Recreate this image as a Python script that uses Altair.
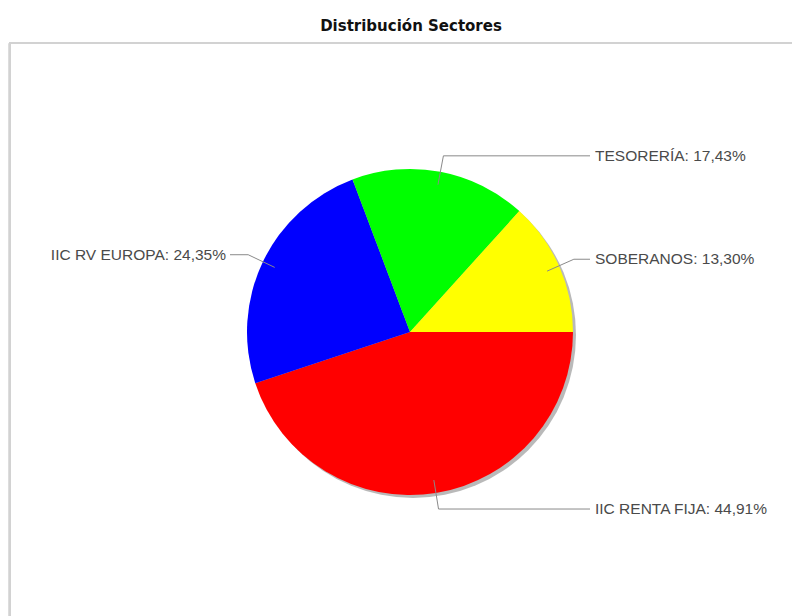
import math
import altair as alt
import pandas as pd

# ---- data ----
categories = ["IIC RENTA FIJA", "IIC RV EUROPA", "TESORERÍA", "SOBERANOS"]
values = [44.91, 24.35, 17.43, 13.30]
value_labels = ["44,91%", "24,35%", "17,43%", "13,30%"]
colors = ["#FF0000", "#0000FF", "#00FF00", "#FFFF00"]
TITLE = "Distribución Sectores"

# ---- layout ----
W, H = 784, 573
CX, CY, R = 402, 289, 163
START = math.pi / 2          # slices start at 3 o'clock
RIGHT_END, LEFT_END = 582, 222
FONT = "Liberation Sans"

pie_df = pd.DataFrame({"cat": categories, "val": values, "ord": list(range(len(categories)))})

total = sum(values)
cum = 0.0
line_rows, label_rows = [], []
for i, (c, v, lab) in enumerate(zip(categories, values, value_labels)):
    mid = START + 2 * math.pi * (cum + v / 2) / total
    cum += v
    s, co = math.sin(mid), math.cos(mid)
    x0, y0 = CX + 0.92 * R * s, CY - 0.92 * R * co
    x1, y1 = CX + 1.1 * R * s, CY - 1.1 * R * co
    side = "right" if s > 0 else "left"
    x2 = RIGHT_END if side == "right" else LEFT_END
    for k, (xx, yy) in enumerate([(x0, y0), (x1, y1), (x2, y1)]):
        line_rows.append({"cat": c, "seq": k, "x": xx, "y": yy})
    label_rows.append({"cat": c, "text": f"{c}: {lab}", "x": x2, "y": y1, "side": side})

lines_df = pd.DataFrame(line_rows)
labels_df = pd.DataFrame(label_rows)
one = pd.DataFrame({"a": [0]})

xs = alt.Scale(domain=[0, W], range=[0, W])
ys = alt.Scale(domain=[0, H], range=[0, H])

box = alt.Chart(one).mark_rect(fill="white", stroke="#d2d2d2", strokeWidth=2).encode(
    x=alt.value(2), x2=alt.value(787), y=alt.value(0), y2=alt.value(H + 30)
)

shadow = alt.Chart(one).mark_arc(
    color="#808080", opacity=0.55, outerRadius=R, theta=0, theta2=2 * math.pi
).encode(x=alt.value(CX + 3), y=alt.value(CY + 3))

pie = alt.Chart(pie_df).mark_arc(outerRadius=R).encode(
    theta=alt.Theta("val:Q", scale=alt.Scale(range=[START, START + 2 * math.pi])),
    order=alt.Order("ord:Q"),
    color=alt.Color("cat:N", scale=alt.Scale(domain=categories, range=colors), legend=None),
    x=alt.value(CX),
    y=alt.value(CY),
)

leaders = alt.Chart(lines_df).mark_line(color="#8a8a8a", strokeWidth=1).encode(
    x=alt.X("x:Q", scale=xs, axis=None),
    y=alt.Y("y:Q", scale=ys, axis=None),
    detail="cat:N",
    order="seq:Q",
)

lab_right = alt.Chart(labels_df).transform_filter(alt.datum.side == "right").mark_text(
    align="left", baseline="middle", dx=5, font=FONT, fontSize=15.5, color="#4a4a4a"
).encode(x=alt.X("x:Q", scale=xs, axis=None), y=alt.Y("y:Q", scale=ys, axis=None), text="text:N")

lab_left = alt.Chart(labels_df).transform_filter(alt.datum.side == "left").mark_text(
    align="right", baseline="middle", dx=-4, font=FONT, fontSize=15.5, color="#4a4a4a"
).encode(x=alt.X("x:Q", scale=xs, axis=None), y=alt.Y("y:Q", scale=ys, axis=None), text="text:N")

chart = alt.layer(box, shadow, pie, leaders, lab_right, lab_left).properties(
    width=W,
    height=H,
    autosize=alt.AutoSizeParams(type="none"),
    padding={"left": 0, "top": 35, "right": 0, "bottom": 0},
    title=alt.TitleParams(
        TITLE, font="DejaVu Sans", fontSize=15, fontWeight="bold", color="#111111",
        anchor="middle", dx=11, offset=8,
    ),
).configure_view(stroke=None).configure(background="white")

chart.save("out.html", embed_options={"renderer": "svg", "actions": False})
